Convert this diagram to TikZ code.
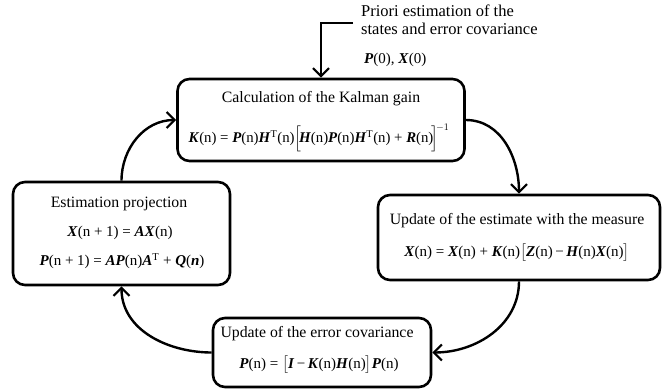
\documentclass[tikz,border=0pt]{standalone}
\usepackage{amsmath}
\usepackage{fontspec}
\setmainfont{Liberation Serif}
\usetikzlibrary{arrows.meta}
\newcommand{\bv}[1]{\textbf{\textit{#1}}}
\newcommand{\mn}{\,−\,}
\begin{document}
\begin{tikzpicture}[x=1pt,y=-1pt,
  box/.style={draw,line width=2.6pt,rounded corners=12pt,inner sep=0pt},
  ttl/.style={inner sep=0pt,font=\fontsize{15.8}{18}\selectfont},
  eq/.style={inner sep=0pt,font=\fontsize{15}{18}\selectfont},
  arr/.style={line width=2.4pt,-{Straight Barb[length=8pt,width=16pt,line width=2.2pt]}},
  lbl/.style={align=left,inner sep=0pt,font=\fontsize{16.5}{18}\selectfont}]
\useasboundingbox (0,0) rectangle (667,389);
\node[box,minimum width=287pt,minimum height=82pt] (top) at (321,120) {};
\node[ttl] (topt) at (321,99) {Calculation of the Kalman gain};
\node[eq,font=\fontsize{14.8}{18}\selectfont] (tope) at (319,138)
  {\bv{K}(n) = \bv{P}(n)\bv{H}\textsuperscript{T}(n)$\Bigl[\!$\bv{H}(n)\bv{P}(n)\bv{H}\textsuperscript{T}(n) + \bv{R}(n)$\!\Bigr]^{\!-1}$};
\node[box,minimum width=282pt,minimum height=85pt] (right) at (519,237.5) {};
\node[ttl] (rightt) at (517,221) {Update of the estimate with the measure};
\node[eq] (righte) at (517,253)
  {\bv{X}(n) = \bv{X}(n) + \bv{K}(n)$\bigl[$\bv{Z}(n)\mn\bv{H}(n)\bv{X}(n)$\bigr]$};
\node[box,minimum width=217pt,minimum height=103pt] (left) at (121.5,233.5) {};
\node[ttl] (leftt) at (119,204) {Estimation projection};
\node[eq] (lefte1) at (120,233) {\bv{X}(n + 1) = \bv{AX}(n)};
\node[eq] (lefte2) at (122,261) {\bv{P}(n + 1) = \bv{AP}(n)\bv{A}\textsuperscript{T} + \bv{Q}(\bv{n})};
\node[box,minimum width=218pt,minimum height=69pt] (bottom) at (322,352.5) {};
\node[ttl] (bottomt) at (317,334) {Update of the error covariance};
\node[eq] (bottome) at (319,365) {\bv{P}(n) = $\bigl[$\bv{I}\mn\bv{K}(n)\bv{H}(n)$\bigr]$\bv{P}(n)};
\node[lbl,anchor=north west] (prior) at (361,5)
  {Priori estimation of the\\states and error covariance};
\node[lbl,anchor=west,font=\fontsize{15}{18}\selectfont] (init) at (364,60) {\bv{P}(0), \bv{X}(0)};
\coordinate (in1) at (353,23);
\draw[arr] (in1) -| (top.north);
\draw[arr] (top.east) to[out=0,in=90] (right.north);
\draw[arr] (right.south) to[out=-90,in=0] (bottom.east);
\draw[arr] (bottom.west) to[out=180,in=-90] (left.south);
\draw[arr] (left.north) to[out=90,in=180] (top.west);
\end{tikzpicture}
\end{document}
